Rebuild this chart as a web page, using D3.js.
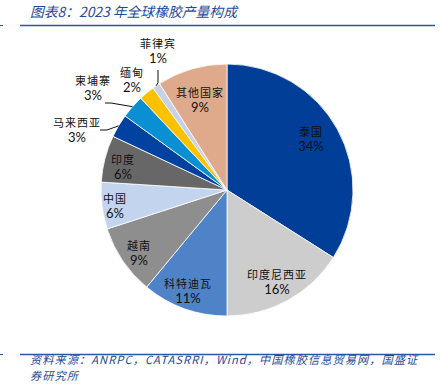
<!DOCTYPE html>
<html><head><meta charset="utf-8">
<script src="https://cdn.jsdelivr.net/npm/d3@7"></script>
<style>
html,body{margin:0;padding:0;background:#fff;}
svg{display:block;}
</style></head>
<body>
<svg id="c" width="441" height="384"></svg>
<script>
const categories = ["泰国","印度尼西亚","科特迪瓦","越南","中国","印度","马来西亚","柬埔寨","缅甸","菲律宾","其他国家"];
const shares = [34,16,11,9,6,6,3,3,2,1,9];
const percentLabels = ["34%","16%","11%","9%","6%","6%","3%","3%","2%","1%","9%"];
const colors = ["#013E97","#CDCDCD","#4F83C8","#8E8E8E","#C3D5EE","#676767","#0141A0","#0A8FD3","#FDC100","#C9D1E5","#DEAA8B"];
const titleText = "图表8：2023 年全球橡胶产量构成";
const sourceLines = ["资料来源：ANRPC，CATASRRI，Wind，中国橡胶信息贸易网，国盛证","券研究所"];

const svg = d3.select("#c");
const cx = 227, cy = 190, R = 126;
const cjk = "'Noto Sans CJK SC', sans-serif";
const lat = "Lato, 'Open Sans', sans-serif";
const blue = "#1F4A9A";

// title
svg.append("text").attr("x",30).attr("y",17).attr("font-family",cjk).attr("font-size",13.8)
  .attr("font-style","italic").attr("fill",blue).text(titleText);
svg.append("line").attr("x1",20).attr("x2",435).attr("y1",25.5).attr("y2",25.5)
  .attr("stroke","#2A56A8").attr("stroke-width",1.5);
svg.append("line").attr("x1",0).attr("x2",3).attr("y1",25.5).attr("y2",25.5)
  .attr("stroke","#2A56A8").attr("stroke-width",1);

// footer
svg.append("line").attr("x1",20).attr("x2",435).attr("y1",354.5).attr("y2",354.5)
  .attr("stroke","#2A56A8").attr("stroke-width",1.5);
svg.append("line").attr("x1",0).attr("x2",3).attr("y1",354.5).attr("y2",354.5)
  .attr("stroke","#2A56A8").attr("stroke-width",1);
const foot = svg.append("text").attr("font-family",cjk).attr("font-size",11.2)
  .attr("font-style","italic").attr("fill",blue).attr("letter-spacing",1.05);
sourceLines.forEach((s,i)=>{
  foot.append("tspan").attr("x",30).attr("y",364+i*16.2).text(s);
});

const pie = d3.pie().sort(null).value(d=>d)(shares);
const arc = d3.arc().innerRadius(0).outerRadius(R);
const g = svg.append("g").attr("transform",`translate(${cx},${cy})`);
g.selectAll("path").data(pie).join("path")
  .attr("d",arc).attr("fill",(d,i)=>colors[i])
  .attr("stroke","#fff").attr("stroke-width",0.8);

// label layout (pixel offsets from pie centre for each label block), leader flag
const labelPos = [
  [84,-54,false],[50,89,false],[-39,98,false],[-88,60,false],[-112,13,false],[-104,-26,false],
  [-150,-63,true],[-134,-105,true],[-95,-113,false],[-69,-142,true],[-27,-93,false]
];
pie.forEach((d,i)=>{
  const [dx,dy,lead] = labelPos[i];
  const t = g.append("text").attr("text-anchor","middle").attr("fill","#111");
  t.append("tspan").attr("x",dx).attr("y",dy).attr("font-family",cjk).attr("font-size",11)
    .attr("letter-spacing",1).text(categories[i]);
  t.append("tspan").attr("x",dx).attr("y",dy+15).attr("font-family",lat).attr("font-size",13)
    .text(percentLabels[i]);
  if(lead){
    const a = (d.startAngle+d.endAngle)/2;
    const ex = Math.sin(a)*R, ey = -Math.cos(a)*R;
    let pts;
    if(i===9){ // vertical leader from below percent text
      pts = [[dx,dy+22],[dx,ey-3],[ex,ey]];
    } else if(i===7){
      pts = [[dx+12,dy+18],[dx+18,dy+18],[ex,ey]];
    } else {
      pts = [[dx+23,dy+3],[dx+30,dy+3],[ex,ey]];
    }
    g.append("path").attr("d",d3.line()(pts)).attr("fill","none")
      .attr("stroke","#111").attr("stroke-width",1);
  }
});
</script>
</body></html>
